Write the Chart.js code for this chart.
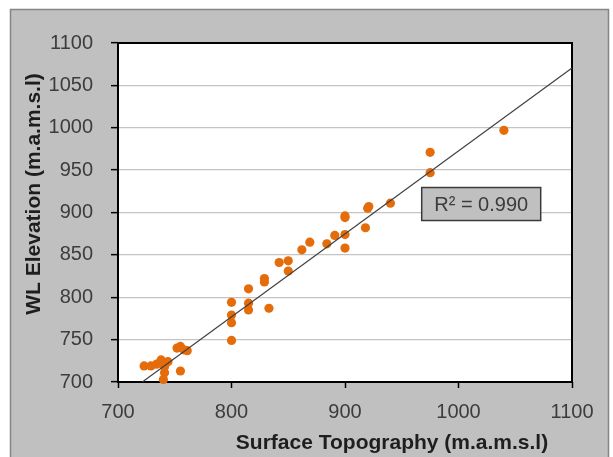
<!DOCTYPE html>
<html>
<head>
<meta charset="utf-8">
<script src="https://cdn.jsdelivr.net/npm/chart.js@4.4.1/dist/chart.umd.min.js"></script>
<style>
html,body{margin:0;padding:0;background:#fff;}
canvas{display:block;}
</style>
</head>
<body>
<canvas id="c" width="613" height="457"></canvas>
<script>
// ---- data ----
const surfaceTopo = [723, 729, 734, 738, 740, 741, 741, 740, 744, 755, 752, 755, 758, 761,
  800, 800, 800, 800, 815, 815, 815, 833, 829, 829, 842, 850, 850, 862, 869, 884, 891,
  900, 900, 900, 900, 918, 920, 921, 940, 975, 975, 1040];
const wlElevation = [719, 719, 721, 726, 722, 718, 711, 703, 724, 713, 740, 742, 738, 737,
  749, 770, 779, 794, 793, 785, 810, 787, 822, 818, 841, 843, 831, 856, 865, 863, 873,
  874, 858, 894, 896, 882, 905, 907, 911, 971, 947, 997];
const trendX = [721.4, 1100];
const trendY = [700, 1070.5];
const xTicks = [700, 800, 900, 1000, 1100];
const yTicks = [700, 750, 800, 850, 900, 950, 1000, 1050, 1100];
const rSquaredText = 'R² = 0.990';
const rLabelPos = [1020, 910];
const xTitle = 'Surface Topography (m.a.m.s.l)';
const yTitle = 'WL Elevation (m.a.m.s.l)';

const points = surfaceTopo.map((x, i) => ({x: x, y: wlElevation[i]}));
const trend = trendX.map((x, i) => ({x: x, y: trendY[i]}));

const FONT = 'Arial, "Liberation Sans", sans-serif';

const decor = {
  id: 'decor',
  beforeDraw(chart) {
    const ctx = chart.ctx;
    ctx.save();
    ctx.fillStyle = '#ffffff';
    ctx.fillRect(0, 0, chart.width, chart.height);
    ctx.fillStyle = '#c0c0c0';
    ctx.fillRect(10, 9, 599, 448);
    ctx.strokeStyle = '#858585';
    ctx.lineWidth = 1.5;
    ctx.beginPath();
    ctx.moveTo(10.5, 457);
    ctx.lineTo(10.5, 9.5);
    ctx.lineTo(608.5, 9.5);
    ctx.lineTo(608.5, 457);
    ctx.stroke();
    const a = chart.chartArea;
    ctx.fillStyle = '#ffffff';
    ctx.fillRect(a.left, a.top, a.right - a.left, a.bottom - a.top);
    ctx.restore();
  },
  beforeDatasetsDraw(chart) {
    const ctx = chart.ctx;
    const a = chart.chartArea;
    ctx.save();
    ctx.strokeStyle = '#000000';
    ctx.lineWidth = 2;
    ctx.strokeRect(a.left, a.top, a.right - a.left, a.bottom - a.top);
    ctx.restore();
  },
  afterDraw(chart) {
    const ctx = chart.ctx;
    const xs = chart.scales.x, ys = chart.scales.y;
    ctx.save();
    // axis titles
    ctx.fillStyle = '#1e1e1e';
    ctx.font = 'bold 21px ' + FONT;
    ctx.textAlign = 'center';
    ctx.textBaseline = 'middle';
    ctx.fillText(xTitle, 392, 443);
    ctx.translate(34, 194);
    ctx.rotate(-Math.PI / 2);
    ctx.fillText(yTitle, 0, 0);
    ctx.restore();
    // R² box
    ctx.save();
    const cx = xs.getPixelForValue(rLabelPos[0]);
    const cy = ys.getPixelForValue(rLabelPos[1]);
    const w = 119, h = 33;
    ctx.fillStyle = '#c0c0c0';
    ctx.fillRect(cx - w / 2, cy - h / 2, w, h);
    ctx.strokeStyle = '#3a3a3a';
    ctx.lineWidth = 1.5;
    ctx.strokeRect(cx - w / 2, cy - h / 2, w, h);
    ctx.fillStyle = '#3c3c3c';
    ctx.font = '20px ' + FONT;
    ctx.textAlign = 'center';
    ctx.textBaseline = 'middle';
    ctx.fillText(rSquaredText, cx, cy + 1);
    ctx.restore();
  }
};

new Chart(document.getElementById('c'), {
  type: 'scatter',
  data: {
    datasets: [
      {
        label: 'trend',
        data: trend,
        showLine: true,
        borderColor: '#404040',
        borderWidth: 1.2,
        pointRadius: 0,
        fill: false
      },
      {
        label: 'WL',
        data: points,
        backgroundColor: '#e46c0a',
        borderWidth: 0,
        pointRadius: 4.6,
        clip: false
      }
    ]
  },
  options: {
    responsive: false,
    animation: false,
    events: [],
    layout: {padding: {left: 0, top: 43, right: 41, bottom: 0}},
    plugins: {legend: {display: false}, tooltip: {enabled: false}},
    scales: {
      x: {
        type: 'linear',
        min: 700, max: 1100,
        afterBuildTicks(s) { s.ticks = xTicks.map(v => ({value: v})); },
        afterFit(s) { s.height = 75; },
        ticks: {font: {family: FONT, size: 20}, color: '#3c3c3c', padding: 12, maxRotation: 0,
          callback: v => String(v)},
        grid: {drawOnChartArea: false, tickColor: '#000', tickLength: 6, tickWidth: 1.5},
        border: {display: false}
      },
      y: {
        type: 'linear',
        min: 700, max: 1100,
        afterBuildTicks(s) { s.ticks = yTicks.map(v => ({value: v})); },
        afterFit(s) { s.width = 118; },
        ticks: {font: {family: FONT, size: 20}, color: '#3c3c3c', padding: 18,
          callback: v => String(v)},
        grid: {color: '#c4c4c4', lineWidth: 1.3, tickColor: '#000', tickLength: 7, tickWidth: 1.5},
        border: {display: false}
      }
    }
  },
  plugins: [decor]
});
</script>
</body>
</html>
